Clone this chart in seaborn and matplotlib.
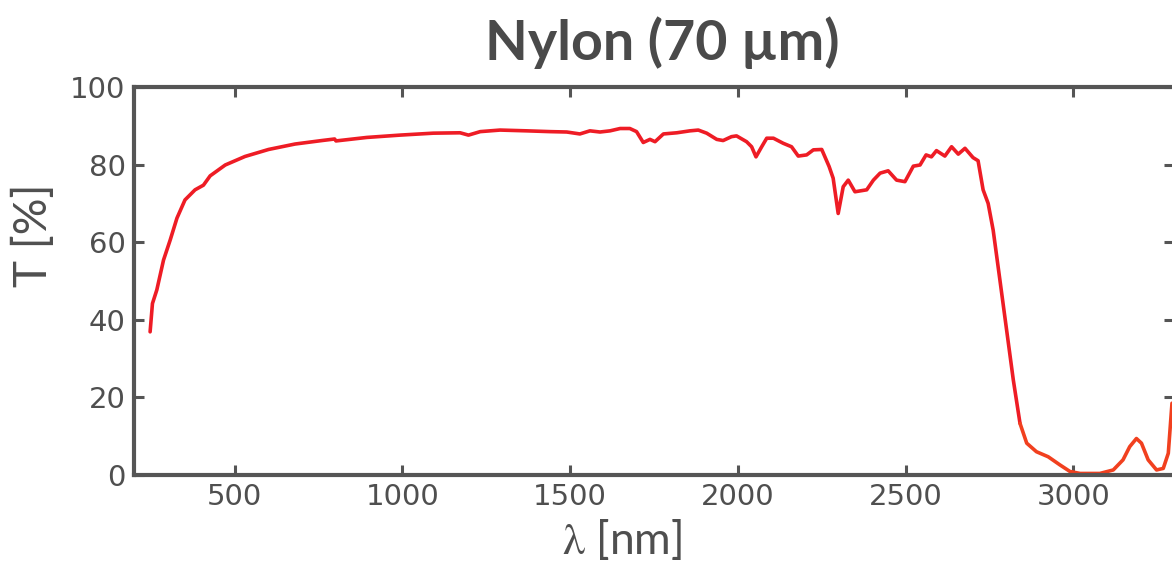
import matplotlib
matplotlib.use("Agg")
import matplotlib.pyplot as plt
import pandas as pd
import seaborn as sns

# transmission of a 70 um nylon film
wavelength_nm = [248, 255, 268, 288, 308, 328, 352, 382, 407, 427, 472, 531, 601, 680, 760, 798,
                 802, 894, 993, 1092, 1172, 1197, 1232, 1291, 1371, 1440, 1490, 1529, 1559, 1589,
                 1619, 1649, 1678, 1698, 1718, 1738, 1753, 1778, 1818, 1857, 1882, 1907, 1937,
                 1956, 1981, 1996, 2026, 2041, 2054, 2071, 2086, 2106, 2135, 2160, 2180, 2205,
                 2225, 2250, 2272, 2284, 2299, 2314, 2329, 2349, 2384, 2404, 2424, 2448, 2473,
                 2498, 2523, 2543, 2561, 2577, 2592, 2617, 2637, 2657, 2677, 2701, 2716, 2731,
                 2746, 2761, 2781, 2801, 2821, 2841]
transmission = [36.9, 44.2, 47.7, 55.4, 60.6, 66.2, 70.9, 73.5, 74.7, 77.1, 79.9, 82.1, 83.9, 85.3,
                86.2, 86.6, 86.1, 87.0, 87.6, 88.1, 88.2, 87.6, 88.5, 88.9, 88.7, 88.5, 88.4, 87.9,
                88.7, 88.4, 88.7, 89.3, 89.3, 88.5, 85.7, 86.5, 85.9, 87.9, 88.2, 88.7, 88.9, 88.1,
                86.5, 86.2, 87.2, 87.4, 85.9, 84.6, 82.0, 84.6, 86.8, 86.8, 85.5, 84.6, 82.2, 82.5,
                83.8, 83.9, 79.5, 76.5, 67.4, 74.3, 76.0, 73.0, 73.5, 76.0, 77.8, 78.4, 76.0, 75.6,
                79.6, 79.9, 82.5, 82.0, 83.6, 82.2, 84.6, 82.7, 84.2, 81.8, 81.0, 73.5, 70.0, 63.1,
                50.3, 37.4, 24.5, 13.3]

# mid-IR tail (drawn in a slightly more orange red in the reference)
tail_nm = [2841, 2861, 2890, 2925, 2960, 2990, 3020, 3079, 3119, 3148, 3168, 3188, 3203, 3223,
           3248, 3268, 3283, 3294]
tail_t = [13.3, 8.2, 6.0, 4.7, 2.6, 0.9, 0.4, 0.4, 1.3, 3.9, 7.3, 9.4, 8.2, 3.9, 1.3, 1.7, 5.6,
          18.5]

x_ticks = [500, 1000, 1500, 2000, 2500, 3000]
y_ticks = [0, 20, 40, 60, 80, 100]

sns.set_style("ticks")
plt.rcParams["font.family"] = ["DejaVu Sans"]
plt.rcParams["mathtext.fontset"] = "stix"

grey = "#4f4f4f"
main_df = pd.DataFrame({"wl": wavelength_nm, "T": transmission})
tail_df = pd.DataFrame({"wl": tail_nm, "T": tail_t})

fig = plt.figure(figsize=(11.72, 5.63), dpi=100)
ax = fig.add_axes([134 / 1172, 88 / 563, 1040 / 1172, 388 / 563])

sns.lineplot(data=main_df, x="wl", y="T", ax=ax, color="#ee1c25", linewidth=2.6,
             estimator=None, sort=False)
sns.lineplot(data=tail_df, x="wl", y="T", ax=ax, color="#f1401f", linewidth=2.6,
             estimator=None, sort=False)

ax.set_xlim(200, 3300)
ax.set_ylim(0, 100)
ax.set_xticks(x_ticks)
ax.set_yticks(y_ticks)
ax.set_xlabel("")
ax.set_ylabel("")

for s in ax.spines.values():
    s.set_color("#555555")
    s.set_linewidth(3.0)
ax.tick_params(direction="in", length=7, width=2.2, color="#555555", labelcolor=grey,
               labelsize=21, top=True, right=True, pad=6)

fig.text(0.565, 1 - 60 / 563, "Nylon (70 µm)", ha="center", va="baseline",
         fontsize=40, fontweight="bold", color="#4a4a4a", family=["Lato", "DejaVu Sans"])
fig.text(33 / 1172, 1 - 235 / 563, "T [%]", rotation=90, ha="center", va="center",
         fontsize=33, color=grey, family=["Lato", "DejaVu Sans"])
fig.text(622 / 1172, 1 - 539 / 563, r"$\mathrm{\lambda}$ [nm]", ha="center", va="center",
         fontsize=32, color=grey, family=["Lato", "DejaVu Sans"])

fig.savefig("out.png", dpi=100)
